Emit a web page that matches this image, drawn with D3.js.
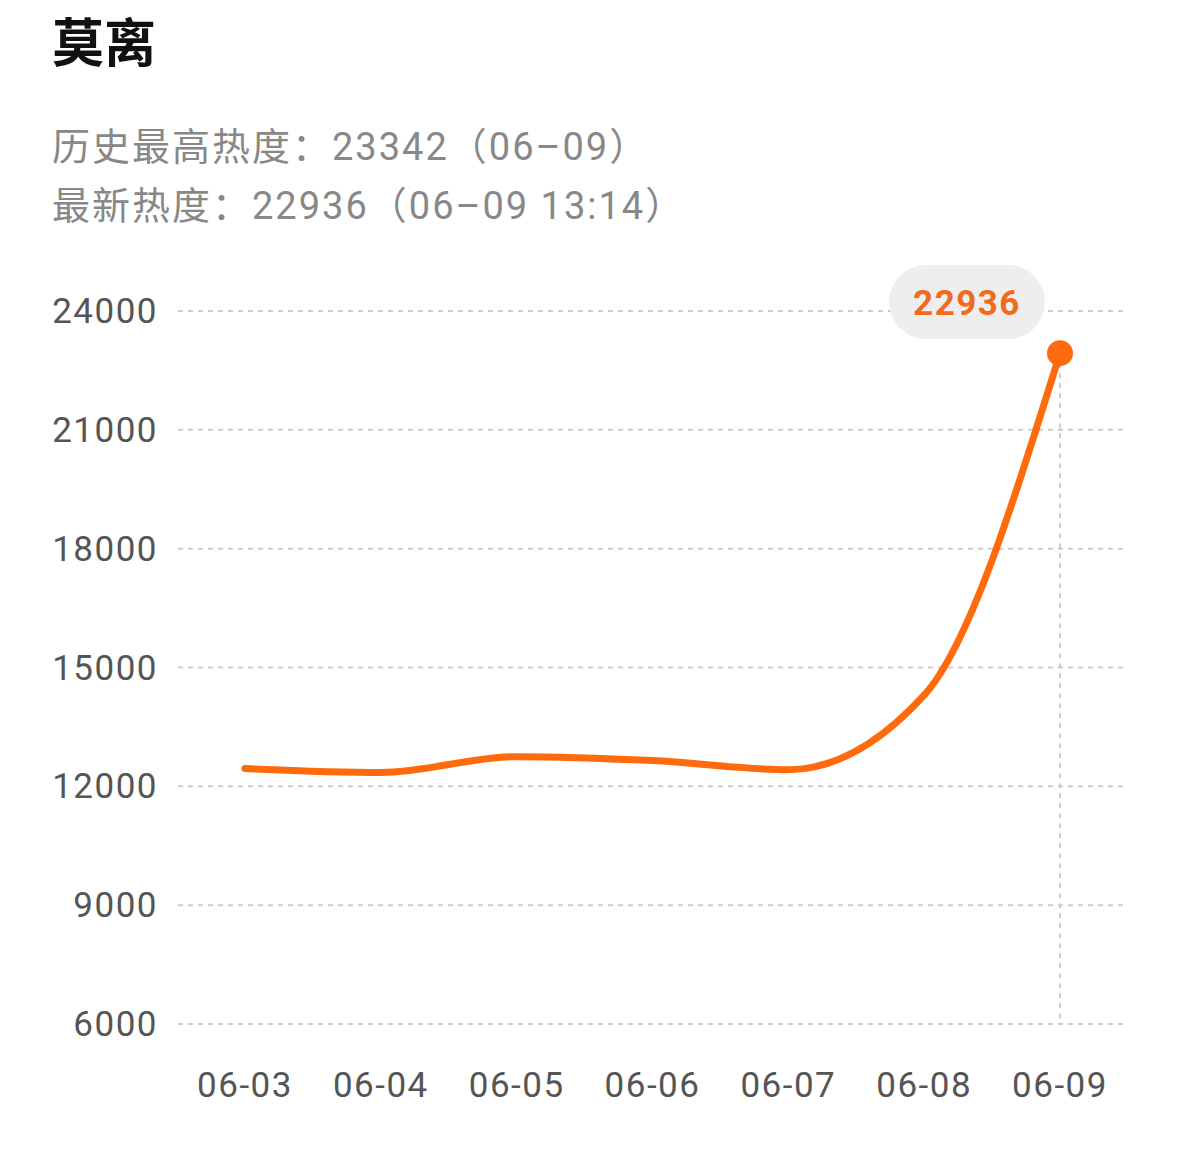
<!DOCTYPE html>
<html><head><meta charset="utf-8">
<script src="https://cdn.jsdelivr.net/npm/d3@7"></script>
<style>body{margin:0;background:#fff}</style>
</head><body>
<svg class="chart" width="1179" height="1155"></svg>
<script>
const dates = ["06-03","06-04","06-05","06-06","06-07","06-08","06-09"];
const heat = [12450, 12350, 12750, 12650, 12420, 14300, 22936];
const yTicks = [6000, 9000, 12000, 15000, 18000, 21000, 24000];

const font = "Roboto, 'Noto Sans CJK SC', sans-serif";
const svg = d3.select(".chart");

const x = d3.scalePoint().domain(dates).range([245, 1060]);
const y = d3.scaleLinear().domain([6000, 24000]).range([1024, 311]);

svg.append("text").attr("x", 52).attr("y", 62)
  .attr("font-family", "'Noto Sans CJK SC', sans-serif").attr("font-weight", "bold")
  .attr("font-size", 52).attr("fill", "#111").text("莫离");
svg.append("text").attr("x", 52).attr("y", 160)
  .attr("font-family", font).attr("font-size", 38).attr("fill", "#888")
  .attr("letter-spacing", 2).text("历史最高热度：23342（06–09）");
svg.append("text").attr("x", 52).attr("y", 219)
  .attr("font-family", font).attr("font-size", 38).attr("fill", "#888")
  .attr("letter-spacing", 2).text("最新热度：22936（06–09 13:14）");

// grid
svg.selectAll("line.grid").data(yTicks).enter().append("line")
  .attr("x1", 178).attr("x2", 1125)
  .attr("y1", d => y(d)).attr("y2", d => y(d))
  .attr("stroke", "#ccc").attr("stroke-width", 2).attr("stroke-dasharray", "5,5");
svg.selectAll("text.yt").data(yTicks).enter().append("text")
  .attr("x", 158).attr("y", d => y(d) + 12).attr("text-anchor", "end")
  .attr("font-family", font).attr("font-size", 35).attr("fill", "#555")
  .attr("letter-spacing", 1.5).text(d => d);
svg.selectAll("text.xt").data(dates).enter().append("text")
  .attr("x", d => x(d)).attr("y", 1097).attr("text-anchor", "middle")
  .attr("font-family", font).attr("font-size", 35).attr("fill", "#555")
  .attr("letter-spacing", 1.5).text(d => d);

const last = dates.length - 1;
svg.append("line").attr("x1", x(dates[last])).attr("x2", x(dates[last]))
  .attr("y1", y(heat[last])).attr("y2", 1024)
  .attr("stroke", "#ccc").attr("stroke-width", 2).attr("stroke-dasharray", "5,5");

const line = d3.line().x((d, i) => x(dates[i])).y(d => y(d)).curve(d3.curveMonotoneX);
svg.append("path").datum(heat).attr("d", line)
  .attr("fill", "none").attr("stroke", "#ff6a0d").attr("stroke-width", 7)
  .attr("stroke-linecap", "round");
svg.append("circle").attr("cx", x(dates[last])).attr("cy", y(heat[last])).attr("r", 13)
  .attr("fill", "#ff6a0d");

svg.append("rect").attr("x", 889).attr("y", 265).attr("width", 156).attr("height", 74)
  .attr("rx", 37).attr("fill", "#eeeeee");
svg.append("text").attr("x", 967).attr("y", 315).attr("text-anchor", "middle")
  .attr("font-family", font).attr("font-weight", "bold").attr("font-size", 35)
  .attr("fill", "#f26a1b").attr("letter-spacing", 1.5).text(heat[last]);
</script>
</body></html>
